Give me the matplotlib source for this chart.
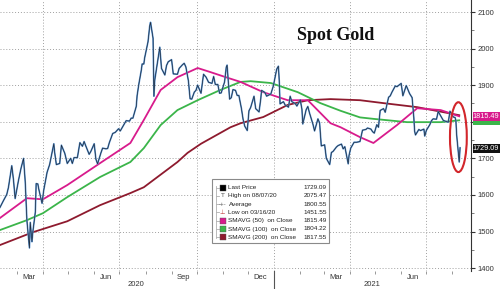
import pandas as pd
import matplotlib
matplotlib.use('Agg')
import matplotlib.pyplot as plt
import matplotlib.dates as mdates
import matplotlib.transforms as mtransforms
from matplotlib.patches import Ellipse, Rectangle
from matplotlib.lines import Line2D

# spot gold (closes plus a few intraday extremes)
price_dates = [
    '2020-02-10', '2020-02-14', '2020-02-18', '2020-02-20', '2020-02-24', '2020-02-26', '2020-02-28',
    '2020-03-03', '2020-03-06', '2020-03-09', '2020-03-11', '2020-03-13', '2020-03-16', '2020-03-17',
    '2020-03-19', '2020-03-20', '2020-03-23', '2020-03-24', '2020-03-26', '2020-03-27', '2020-03-31',
    '2020-04-02', '2020-04-06', '2020-04-09', '2020-04-14', '2020-04-15', '2020-04-17', '2020-04-21',
    '2020-04-23', '2020-04-27', '2020-04-30', '2020-05-04', '2020-05-06', '2020-05-08', '2020-05-12',
    '2020-05-15', '2020-05-18', '2020-05-20', '2020-05-22', '2020-05-26', '2020-05-28', '2020-06-01',
    '2020-06-03', '2020-06-05', '2020-06-09', '2020-06-11', '2020-06-15', '2020-06-17', '2020-06-19',
    '2020-06-23', '2020-06-26', '2020-06-30', '2020-07-02', '2020-07-07', '2020-07-09', '2020-07-13',
    '2020-07-15', '2020-07-17', '2020-07-21', '2020-07-22', '2020-07-24', '2020-07-27', '2020-07-28',
    '2020-07-30', '2020-07-31', '2020-08-04', '2020-08-06', '2020-08-07', '2020-08-10', '2020-08-11',
    '2020-08-12', '2020-08-14', '2020-08-18', '2020-08-20', '2020-08-24', '2020-08-26', '2020-08-28',
    '2020-09-01', '2020-09-03', '2020-09-08', '2020-09-10', '2020-09-14', '2020-09-16', '2020-09-18',
    '2020-09-21', '2020-09-23', '2020-09-25', '2020-09-28', '2020-09-30', '2020-10-02', '2020-10-06',
    '2020-10-09', '2020-10-12', '2020-10-15', '2020-10-19', '2020-10-21', '2020-10-23', '2020-10-26',
    '2020-10-28', '2020-10-30', '2020-11-03', '2020-11-05', '2020-11-06', '2020-11-09', '2020-11-11',
    '2020-11-13', '2020-11-16', '2020-11-18', '2020-11-20', '2020-11-23', '2020-11-25', '2020-11-27',
    '2020-11-30', '2020-12-02', '2020-12-04', '2020-12-08', '2020-12-10', '2020-12-14', '2020-12-16',
    '2020-12-17', '2020-12-21', '2020-12-23', '2020-12-28', '2020-12-31', '2021-01-04', '2021-01-06',
    '2021-01-07', '2021-01-08', '2021-01-12', '2021-01-14', '2021-01-18', '2021-01-20', '2021-01-22',
    '2021-01-26', '2021-01-28', '2021-02-01', '2021-02-03', '2021-02-04', '2021-02-08', '2021-02-10',
    '2021-02-12', '2021-02-16', '2021-02-18', '2021-02-22', '2021-02-24', '2021-02-26', '2021-03-02',
    '2021-03-04', '2021-03-08', '2021-03-10', '2021-03-12', '2021-03-16', '2021-03-18', '2021-03-22',
    '2021-03-24', '2021-03-26', '2021-03-30', '2021-03-31', '2021-04-02', '2021-04-06', '2021-04-09',
    '2021-04-13', '2021-04-16', '2021-04-20', '2021-04-22', '2021-04-26', '2021-04-28', '2021-04-30',
    '2021-05-03', '2021-05-05', '2021-05-07', '2021-05-11', '2021-05-13', '2021-05-17', '2021-05-19',
    '2021-05-21', '2021-05-25', '2021-05-27', '2021-06-01', '2021-06-03', '2021-06-07', '2021-06-09',
    '2021-06-11', '2021-06-14', '2021-06-16', '2021-06-17', '2021-06-18', '2021-06-22', '2021-06-24',
    '2021-06-28', '2021-06-29', '2021-07-01', '2021-07-05', '2021-07-07', '2021-07-09', '2021-07-13',
    '2021-07-15', '2021-07-19', '2021-07-21', '2021-07-23', '2021-07-27', '2021-07-29', '2021-08-02',
    '2021-08-04', '2021-08-05', '2021-08-06', '2021-08-09', '2021-08-10',
]
price_vals = [
    1566, 1584, 1601, 1620, 1680, 1642, 1590,
    1640, 1673, 1700, 1636, 1530, 1455, 1525,
    1472, 1498, 1553, 1631, 1630, 1617, 1577,
    1613, 1662, 1683, 1740, 1716, 1683, 1686,
    1736, 1714, 1686, 1700, 1686, 1702, 1702,
    1743, 1733, 1746, 1734, 1711, 1719, 1740,
    1698, 1685, 1715, 1728, 1726, 1727, 1743,
    1768, 1771, 1781, 1775, 1795, 1803, 1802,
    1810, 1810, 1842, 1871, 1902, 1941, 1958,
    1958, 1975, 2019, 2062, 2072, 2028, 1870,
    1914, 1944, 2004, 1946, 1928, 1954, 1964,
    1970, 1931, 1930, 1946, 1956, 1960, 1950,
    1912, 1863, 1862, 1881, 1886, 1900, 1878,
    1930, 1922, 1908, 1905, 1924, 1902, 1902,
    1878, 1879, 1909, 1949, 1955, 1862, 1866,
    1888, 1886, 1872, 1872, 1837, 1807, 1788,
    1776, 1830, 1839, 1870, 1836, 1827, 1862,
    1886, 1880, 1870, 1876, 1898, 1944, 1952,
    1913, 1849, 1855, 1846, 1840, 1870, 1855,
    1850, 1843, 1860, 1834, 1794, 1833, 1842,
    1824, 1794, 1775, 1808, 1797, 1734, 1737,
    1700, 1683, 1716, 1719, 1731, 1735, 1739,
    1726, 1732, 1685, 1708, 1728, 1744, 1744,
    1746, 1777, 1779, 1783, 1780, 1773, 1769,
    1792, 1785, 1831, 1836, 1826, 1867, 1871,
    1881, 1898, 1896, 1905, 1871, 1899, 1888,
    1877, 1866, 1812, 1774, 1764, 1779, 1776,
    1780, 1761, 1777, 1792, 1803, 1808, 1807,
    1828, 1812, 1804, 1802, 1799, 1829, 1813,
    1812, 1804, 1763, 1690, 1729,
]

sma50_dates = ['2020-02-10', '2020-03-13', '2020-04-01', '2020-04-30', '2020-06-08', '2020-07-14',
               '2020-07-30', '2020-08-19', '2020-09-08', '2020-10-02', '2020-10-17', '2020-11-07',
               '2020-11-22', '2020-12-19', '2021-01-17', '2021-02-10', '2021-03-09', '2021-03-21',
               '2021-04-13', '2021-04-29', '2021-05-27', '2021-06-20', '2021-07-18', '2021-08-09']
sma50_vals = [1537, 1591, 1588, 1627, 1687, 1742,
              1805, 1887, 1922, 1947, 1936, 1920,
              1909, 1881, 1859, 1859, 1796, 1785,
              1758, 1742, 1791, 1837, 1832, 1815]

sma100_dates = ['2020-02-10', '2020-03-13', '2020-04-01', '2020-04-30', '2020-06-08', '2020-07-14',
                '2020-07-30', '2020-08-19', '2020-09-08', '2020-10-02', '2020-10-29', '2020-11-22',
                '2020-12-04', '2020-12-28', '2021-01-29', '2021-02-25', '2021-03-21', '2021-04-13',
                '2021-04-29', '2021-06-08', '2021-07-18', '2021-08-09']
sma100_vals = [1504, 1531, 1550, 1594, 1649, 1690,
               1728, 1791, 1832, 1859, 1887, 1909,
               1911, 1906, 1881, 1851, 1830, 1812,
               1808, 1799, 1799, 1804]

sma200_dates = ['2020-02-10', '2020-03-20', '2020-04-30', '2020-06-08', '2020-07-14', '2020-07-30',
                '2020-09-08', '2020-09-20', '2020-10-06', '2020-11-10', '2020-11-22', '2020-12-19',
                '2021-01-17', '2021-02-10', '2021-03-09', '2021-04-13', '2021-05-11', '2021-06-20',
                '2021-08-09']
sma200_vals = [1463, 1498, 1528, 1572, 1605, 1621,
               1690, 1715, 1740, 1785, 1796, 1813,
               1846, 1859, 1862, 1859, 1851, 1840,
               1818]

legend_labels = ['Last Price', 'High on 08/07/20', 'Average', 'Low on 03/16/20',
                 'SMAVG (50)  on Close', 'SMAVG (100)  on Close', 'SMAVG (200)  on Close']
legend_values = ['1729.09', '2075.47', '1800.55', '1451.55', '1815.49', '1804.22', '1817.55']

month_labels = ['Mar', 'Jun', 'Sep', 'Dec', 'Mar', 'Jun']
month_label_dates = ['2020-03-15', '2020-06-15', '2020-09-15', '2020-12-15', '2021-03-15', '2021-06-15']
quarter_lines = ['2020-04-01', '2020-07-01', '2020-10-01', '2021-01-01', '2021-04-01', '2021-07-01']

MAGENTA = '#d81b8c'
GREEN = '#3bb54a'
DARKRED = '#8e1a2e'
W, H = 500, 289

fig = plt.figure(figsize=(5, 2.89), dpi=100, facecolor='white')
ax = fig.add_axes([0, 1 - 271 / H, 471 / W, 271 / H])

pdates = pd.to_datetime(price_dates)
ax.plot(pd.to_datetime(sma200_dates), sma200_vals, color=DARKRED, lw=1.3, zorder=3)
ax.plot(pd.to_datetime(sma100_dates), sma100_vals, color=GREEN, lw=1.3, zorder=3)
ax.plot(pd.to_datetime(sma50_dates), sma50_vals, color=MAGENTA, lw=1.3, zorder=3)
ax.plot(pdates, price_vals, color='#5b95d3', lw=1.2, zorder=4)
ax.plot(pdates, price_vals, color='#202b3a', lw=0.5, zorder=5)

ax.set_xlim(pd.Timestamp('2020-02-10'), pd.Timestamp('2021-08-23'))
ax.set_ylim(1392, 2133)

# grid
ax.set_yticks(range(1400, 2101, 100))
ax.set_yticks(range(1450, 2101, 100), minor=True)
ax.grid(axis='y', which='major', color='#a0a0a0', lw=0.7, linestyle=(0, (1, 2)))
for d in quarter_lines:
    ax.axvline(pd.Timestamp(d), color='#a0a0a0', lw=0.7, linestyle=(0, (1, 2)), zorder=1)

for s in ['left', 'top', 'bottom']:
    ax.spines[s].set_visible(False)
ax.spines['right'].set_color('#333333')
ax.spines['right'].set_linewidth(0.8)

ax.yaxis.tick_right()
ax.tick_params(axis='y', which='major', direction='out', length=3, width=0.8, pad=2,
               labelsize=5.5, colors='#333333')
ax.tick_params(axis='y', which='minor', direction='out', length=2, width=0.6, colors='#666666')
for lab in ax.get_yticklabels():
    lab.set_fontfamily('Liberation Sans')

ax.set_xticks(pd.to_datetime(month_label_dates))
ax.set_xticklabels(month_labels, fontsize=5.5, fontfamily='Liberation Sans', color='#333333')
ax.xaxis.set_minor_locator(mdates.MonthLocator())
ax.tick_params(axis='x', which='major', length=0, pad=2)
ax.tick_params(axis='x', which='minor', direction='out', length=2, width=0.6, colors='#888888')

# year separator and year labels
trans = mtransforms.blended_transform_factory(ax.transData, ax.transAxes)
x_jan = mdates.date2num(pd.Timestamp('2021-01-01'))
ax.add_line(Line2D([x_jan, x_jan], [0, -0.07], transform=trans, color='#555555', lw=0.8, clip_on=False))
fig.text(136 / W, 1 - 285 / H, '2020', ha='center', va='center', fontsize=5.5,
         fontfamily='Liberation Sans', color='#333333')
fig.text(372 / W, 1 - 285 / H, '2021', ha='center', va='center', fontsize=5.5,
         fontfamily='Liberation Sans', color='#333333')

# title
ax.text(336 / 471, 1 - 35 / 271, 'Spot Gold', transform=ax.transAxes, ha='center', va='center',
        fontsize=13, fontweight='bold', fontfamily='Liberation Serif', color='#111111')

# red ellipse round the last move
ax.add_patch(Ellipse((mdates.date2num(pd.Timestamp('2021-08-08')), 1758), width=20, height=191,
                     fill=False, edgecolor='#d2262b', lw=1.5, zorder=6))

# legend box
def fx(px):
    return px / W

def fy(py):
    return 1 - py / H

fig.add_artist(Rectangle((fx(212), fy(243)), fx(117), 64 / H, facecolor='white',
                         edgecolor='#8a8a8a', lw=0.8, zorder=10))
fig.add_artist(Line2D([fx(215.5), fx(215.5)], [fy(186), fy(237.5)], color='#b0b0b0', lw=0.6, zorder=11))
marker_colors = ['black', None, None, None, MAGENTA, GREEN, DARKRED]
for i, (lab, val) in enumerate(zip(legend_labels, legend_values)):
    yy = 187.5 + i * 8.3
    fig.add_artist(Line2D([fx(215.5), fx(219)], [fy(yy), fy(yy)], color='#b0b0b0', lw=0.6, zorder=11))
    c = marker_colors[i]
    if c is not None:
        fig.add_artist(Rectangle((fx(220), fy(yy + 3)), 5.5 / W, 6 / H, facecolor=c,
                                 edgecolor='#555555', lw=0.3, zorder=12))
    elif i == 1:
        fig.text(fx(222.7), fy(yy), 'T', ha='center', va='center', fontsize=4.5, color='#555555',
                 zorder=12)
    elif i == 2:
        fig.text(fx(222.7), fy(yy), '-+-', ha='center', va='center', fontsize=3.5, color='#555555',
                 zorder=12)
    else:
        fig.text(fx(222.7), fy(yy), '\u22a5', ha='center', va='center', fontsize=4.5, color='#c04040',
                 zorder=12)
    fig.text(fx(228.5), fy(yy), lab, ha='left', va='center', fontsize=4.6,
             fontfamily='Liberation Sans', color='#222222', zorder=12)
    fig.text(fx(326.5), fy(yy), val, ha='right', va='center', fontsize=4.6,
             fontfamily='Liberation Sans', color='#222222', zorder=12)

# value tags on the right axis
def tag(yc, text, color, txtcolor='white'):
    fig.add_artist(Rectangle((fx(472.5), fy(yc + 4.5)), 27.5 / W, 9 / H, facecolor=color,
                             edgecolor='none', zorder=10))
    if text:
        fig.text(fx(486), fy(yc), text, ha='center', va='center', fontsize=5.2,
                 fontfamily='Liberation Sans', color=txtcolor, zorder=11)

tag(120.5, '', GREEN)
tag(116.3, legend_values[4], MAGENTA)
tag(148.4, legend_values[0], '#111111')

fig.savefig('out.png', dpi=100, facecolor='white')
